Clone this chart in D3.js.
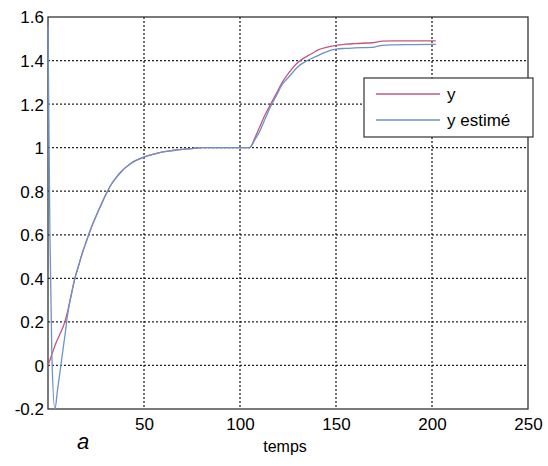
<!DOCTYPE html>
<html>
<head>
<meta charset="utf-8">
<script src="https://cdn.jsdelivr.net/npm/d3@7"></script>
<style>
  body { margin: 0; background: #fff; }
  text { font-family: "Liberation Sans", Arial, sans-serif; }
</style>
</head>
<body>
<svg id="chart"></svg>
<script>
// values
const tY = [0, 2, 4, 6, 8, 10, 12, 14, 16, 18, 20, 22, 25, 28, 31, 33, 35, 38, 40, 42, 45, 47, 50, 55, 60, 65, 70, 75, 80, 105,
    108, 110, 113, 116, 119, 122, 126, 130, 133, 137, 141, 145, 150, 155, 160, 170, 174, 180, 190, 202];
const yVals = [0, 0.05, 0.1, 0.14, 0.18, 0.24, 0.32, 0.4, 0.46, 0.52, 0.57, 0.62, 0.685, 0.745, 0.8, 0.832, 0.857, 0.888, 0.906, 0.92, 0.938, 0.946, 0.957, 0.97, 0.981, 0.987, 0.992, 0.996, 1, 1,
    1.05, 1.09, 1.15, 1.2, 1.25, 1.3, 1.35, 1.39, 1.41, 1.43, 1.45, 1.46, 1.47, 1.475, 1.478, 1.483, 1.489, 1.49, 1.49, 1.49];

const tEst = [0, 1, 2, 3.6, 5, 7, 9, 10, 12, 14, 16, 18, 20, 22, 25, 28, 31, 33, 35, 38, 40, 42, 45, 47, 50, 55, 60, 65, 70, 75, 80, 105,
    108, 110, 113, 116, 119, 122, 126, 130, 135, 140, 145, 150, 155, 160, 170, 174, 180, 190, 202];
const yEstVals = [1.56, 0.6, 0.05, -0.2, -0.11, 0.02, 0.15, 0.22, 0.32, 0.4, 0.46, 0.52, 0.57, 0.62, 0.685, 0.745, 0.8, 0.832, 0.857, 0.888, 0.906, 0.92, 0.938, 0.946, 0.957, 0.97, 0.981, 0.987, 0.992, 0.996, 1, 1,
    1.04, 1.07, 1.13, 1.19, 1.24, 1.29, 1.33, 1.37, 1.40, 1.42, 1.44, 1.452, 1.456, 1.458, 1.462, 1.47, 1.472, 1.473, 1.474];

const xTicks = [50, 100, 150, 200, 250];
const yTicks = [-0.2, 0, 0.2, 0.4, 0.6, 0.8, 1, 1.2, 1.4, 1.6];
const seriesNames = ['y', 'y estimé'];
const seriesColors = ['#c4577e', '#6b92cc'];

const width = 548, height = 466;
const margin = { top: 17, right: 20, bottom: 57, left: 48 };
const innerW = width - margin.left - margin.right;
const innerH = height - margin.top - margin.bottom;

const svg = d3.select('#chart').attr('width', width).attr('height', height);
const chart = svg.append('g').attr('transform', `translate(${margin.left}, ${margin.top})`);

const xscale = d3.scaleLinear().domain([0, 250]).range([0, innerW]);
const yscale = d3.scaleLinear().domain([-0.2, 1.6]).range([innerH, 0]);

// dotted grid
chart.append('g')
    .selectAll('line')
    .data(xTicks.filter(d => d < 250))
    .join('line')
    .attr('x1', d => xscale(d)).attr('x2', d => xscale(d))
    .attr('y1', 0).attr('y2', innerH)
    .attr('stroke', '#222').attr('stroke-width', 1.3)
    .attr('stroke-dasharray', '2,2');

chart.append('g')
    .selectAll('line')
    .data(yTicks.filter(d => d > -0.2 && d < 1.6))
    .join('line')
    .attr('x1', 0).attr('x2', innerW)
    .attr('y1', d => yscale(d)).attr('y2', d => yscale(d))
    .attr('stroke', '#222').attr('stroke-width', 1.3)
    .attr('stroke-dasharray', '2,2');

// box
chart.append('rect')
    .attr('width', innerW).attr('height', innerH)
    .attr('fill', 'none').attr('stroke', '#333').attr('stroke-width', 1.3);

const xaxis = d3.axisBottom(xscale).tickValues(xTicks).tickSize(0).tickPadding(9).tickFormat(d3.format('d'));
const yaxis = d3.axisLeft(yscale).tickValues(yTicks).tickSize(0).tickPadding(4)
    .tickFormat(d => String(+d.toFixed(1)));

const xg = chart.append('g').attr('transform', `translate(0, ${innerH})`).call(xaxis);
const yg = chart.append('g').call(yaxis);
[xg, yg].forEach(g => {
    g.select('.domain').remove();
    g.selectAll('text').attr('font-size', 17).attr('fill', '#000')
        .attr('font-family', '"Liberation Sans", Arial, sans-serif');
});
yg.selectAll('text').attr('dy', '0.35em');

// curves
const line = d3.line().x(d => xscale(d[0])).y(d => yscale(d[1])).curve(d3.curveMonotoneX);
const series = [
    d3.zip(tY, yVals),
    d3.zip(tEst, yEstVals)
];
chart.append('g')
    .selectAll('path')
    .data(series)
    .join('path')
    .attr('d', line)
    .attr('fill', 'none')
    .attr('stroke', (d, i) => seriesColors[i])
    .attr('stroke-width', 1.3);

// legend
const lg = svg.append('g').attr('transform', 'translate(364, 78)');
lg.append('rect').attr('width', 169).attr('height', 59)
    .attr('fill', '#fff').attr('stroke', '#333').attr('stroke-width', 1.2);
seriesNames.forEach((name, i) => {
    const yy = 16 + i * 26;
    lg.append('line').attr('x1', 12).attr('x2', 76).attr('y1', yy).attr('y2', yy)
        .attr('stroke', seriesColors[i]).attr('stroke-width', 1.3);
    lg.append('text').attr('x', 83).attr('y', yy + 6)
        .attr('font-size', 17).attr('fill', '#000').text(name);
});

// labels
svg.append('text').attr('x', 285).attr('y', 452)
    .attr('text-anchor', 'middle').attr('font-size', 16).attr('fill', '#000').text('temps');
svg.append('text').attr('x', 83).attr('y', 449)
    .attr('text-anchor', 'middle').attr('font-size', 22).attr('font-style', 'italic')
    .attr('font-family', '"Liberation Serif", "Times New Roman", serif')
    .attr('fill', '#000').text('a');
</script>
</body>
</html>
